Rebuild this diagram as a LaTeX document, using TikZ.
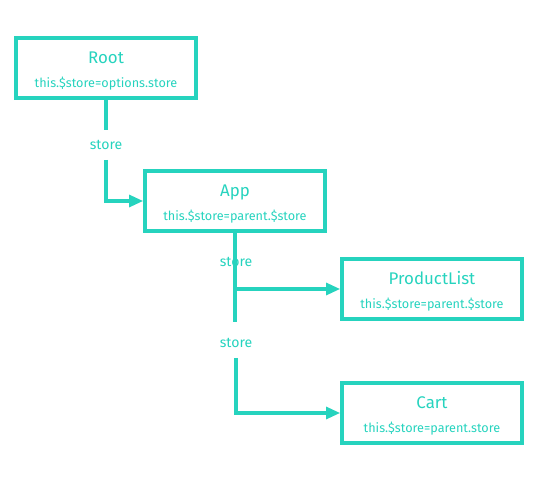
\documentclass[tikz,border=0pt]{standalone}
\usepackage{fontspec}
\setmainfont{Fira Sans}
\usetikzlibrary{arrows.meta}
\definecolor{storecol}{RGB}{38,211,190}
\newcommand{\topstrut}{\rule{0pt}{13pt}}

\begin{document}
\begin{tikzpicture}[x=0.025cm,y=-0.025cm,
        comp/.style={draw=storecol, line width=2.6pt, minimum width=4.5cm, minimum height=1.5cm,
                     align=center, text=storecol, font=\small, inner sep=0pt},
        link/.style={storecol, line width=2.2pt},
        tag/.style={text=storecol, font=\normalsize, inner sep=7pt}]

        \useasboundingbox (0,0) rectangle (540,480);

        % components
        \node[comp] (root) at (106,68) {\topstrut{\large Root}\\[6pt]this.\$store=options.store};
        \node[comp] (app) at (235,201) {\topstrut{\large App}\\[6pt]this.\$store=parent.\$store};
        \node[comp] (plist) at (432,289) {\topstrut{\large ProductList}\\[6pt]this.\$store=parent.\$store};
        \node[comp] (cart) at (432,413) {\topstrut{\large Cart}\\[6pt]this.\$store=parent.store};

        % store labels
        \node[tag] (s1) at (106,145) {store};
        \node[tag] (s3) at (236,343) {store};

        \coordinate (tail) at (235,322);
        \coordinate (j1) at (app.south |- plist.west);

        % connectors
        \draw[link] (root.south) -- (s1.north);
        \draw[link, -{Triangle[length=10pt, width=8.5pt]}] (s1.south) |- (app.west);
        \draw[link] (app.south) -- (tail);
        \draw[link, -{Triangle[length=10pt, width=8.5pt]}] (j1) -- (plist.west);
        \draw[link, -{Triangle[length=10pt, width=8.5pt]}] (s3.south) |- (cart.west);

        \node[tag] (s2) at (236,262) {store};

\end{tikzpicture}
\end{document}
